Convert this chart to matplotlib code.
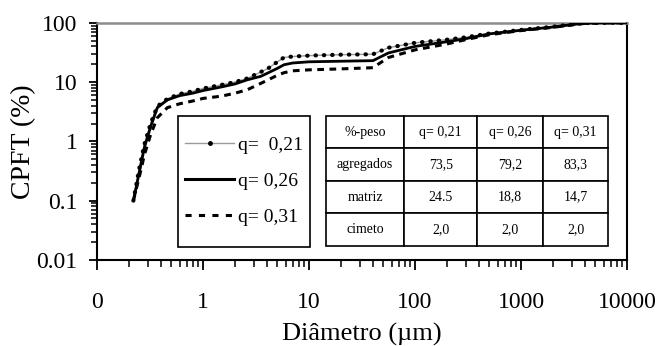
import matplotlib
matplotlib.use("Agg")
import matplotlib.pyplot as plt
from matplotlib.lines import Line2D
from matplotlib.patches import Rectangle
from matplotlib.ticker import FixedLocator, FixedFormatter, LogLocator, NullFormatter

plt.rcParams["font.family"] = ["Liberation Serif", "DejaVu Serif"]

# particle diameter (um) and cumulative percent finer than (CPFT, %)
diam = [0.22, 0.25, 0.28, 0.32, 0.37, 0.46, 0.6, 0.8, 1.0, 1.5, 2.0, 2.6, 3.5, 4.1,
        5.0, 5.8, 7.0, 10, 20, 40, 56, 100, 200, 300, 500, 1000, 2000, 3000, 4000,
        6000, 10000]
cpft_021 = [0.1, 0.35, 0.9, 2.0, 3.9, 5.2, 6.3, 7.0, 7.8, 9.0, 10, 11.5, 14.8, 17,
            21.8, 26, 27, 28, 29, 29.5, 38, 46, 52, 57, 66, 76, 86, 94, 99, 100, 100]
cpft_026 = [0.1, 0.3, 0.8, 1.76, 3.7, 5.0, 5.9, 6.5, 7.2, 8.3, 9.3, 10.9, 12.5, 14.3,
            17, 19.6, 21, 22, 22.5, 23, 31, 40, 48, 54, 65, 75, 85, 93, 99, 100, 100]
cpft_031 = [0.1, 0.25, 0.6, 1.3, 2.5, 3.7, 4.3, 4.8, 5.3, 5.8, 6.5, 7.4, 9.5, 10.9,
            13, 14.4, 15.5, 16.1, 16.7, 17.5, 26, 35, 44, 52, 63, 74, 84, 92, 98, 100, 100]

legend_labels = ["q=  0,21", "q= 0,26", "q= 0,31"]

table_cols = ["%-peso", "q= 0,21", "q= 0,26", "q= 0,31"]
table_rows = [
    ["agregados", "73,5", "79,2", "83,3"],
    ["matriz", "24.5", "18,8", "14,7"],
    ["cimeto", "2,0", "2,0", "2,0"],
]

xticks = [0.1, 1, 10, 100, 1000, 10000]
xtick_labels = ["0", "1", "10", "100", "1000", "10000"]
yticks = [0.01, 0.1, 1, 10, 100]
ytick_labels = ["0.01", "0.1", "1", "10", "100"]

fig = plt.figure(figsize=(6.65, 3.46), dpi=100)
ax = fig.add_axes([0.146, 0.249, 0.797, 0.685])

# q = 0.21: thin grey line with dense black dots
ax.plot(diam, cpft_021, color="#9a9a9a", lw=1.0, zorder=2)
ax.plot(diam, cpft_021, color="black", lw=3.0, linestyle=(0, (0.1, 1.9)),
        dash_capstyle="round", zorder=3)
ax.plot(diam, cpft_026, color="black", lw=2.0, zorder=3)
ax.plot(diam, cpft_031, color="black", lw=2.2, linestyle=(0, (2.2, 1.8)), zorder=3)

ax.set_xscale("log")
ax.set_yscale("log")
ax.set_xlim(0.1, 10000)
ax.set_ylim(0.01, 100)

ax.xaxis.set_major_locator(FixedLocator(xticks))
ax.xaxis.set_major_formatter(FixedFormatter(xtick_labels))
ax.xaxis.set_minor_locator(LogLocator(base=10, subs=range(2, 10), numticks=20))
ax.xaxis.set_minor_formatter(NullFormatter())
ax.yaxis.set_major_locator(FixedLocator(yticks))
ax.yaxis.set_major_formatter(FixedFormatter(ytick_labels))
ax.yaxis.set_minor_locator(LogLocator(base=10, subs=range(2, 10), numticks=20))
ax.yaxis.set_minor_formatter(NullFormatter())

ax.tick_params(axis="x", which="major", direction="out", length=7, width=1.3,
               labelsize=17, pad=16)
ax.tick_params(axis="x", which="minor", direction="out", length=5, width=1.1)
ax.tick_params(axis="y", which="major", direction="out", length=6, width=1.3,
               labelsize=17, pad=8)
ax.tick_params(axis="y", which="minor", direction="out", length=4, width=1.1)

for side in ["left", "bottom", "right"]:
    ax.spines[side].set_linewidth(1.5)
    ax.spines[side].set_color("black")
ax.spines["top"].set_linewidth(1.8)
ax.spines["top"].set_color("#8c8c8c")

ax.set_xlabel("Diâmetro (µm)", fontsize=19, labelpad=7)
ax.set_ylabel("CPFT (%)", fontsize=20, labelpad=0)

# legend box
ax.add_patch(Rectangle((0.153, 0.055), 0.249, 0.553, transform=ax.transAxes,
                       fill=False, edgecolor="black", lw=1.2, zorder=5))
handles = [
    Line2D([], [], color="#9a9a9a", lw=1.0, marker="o", markersize=2.5,
           markerfacecolor="black", markeredgecolor="black"),
    Line2D([], [], color="black", lw=2.2),
    Line2D([], [], color="black", lw=2.2, linestyle=(0, (2.0, 2.4))),
]
leg = ax.legend(handles, legend_labels, loc="center",
                bbox_to_anchor=(0.153 + 0.249 / 2, 0.055 + 0.553 / 2),
                frameon=False, fontsize=14, handlelength=2.5,
                handletextpad=0.2, labelspacing=0.95, borderpad=0.3)

# composition table
tbl = ax.table(cellText=table_rows, colLabels=table_cols, cellLoc="center",
               bbox=[0.432, 0.059, 0.532, 0.549],
               colWidths=[0.277, 0.259, 0.234, 0.230])
tbl.auto_set_font_size(False)
tbl.set_fontsize(10)
for cell in tbl.get_celld().values():
    cell.set_edgecolor("black")
    cell.set_linewidth(1.2)
    cell.set_facecolor("white")
tbl.set_zorder(5)

fig.savefig("out.png", dpi=100)
